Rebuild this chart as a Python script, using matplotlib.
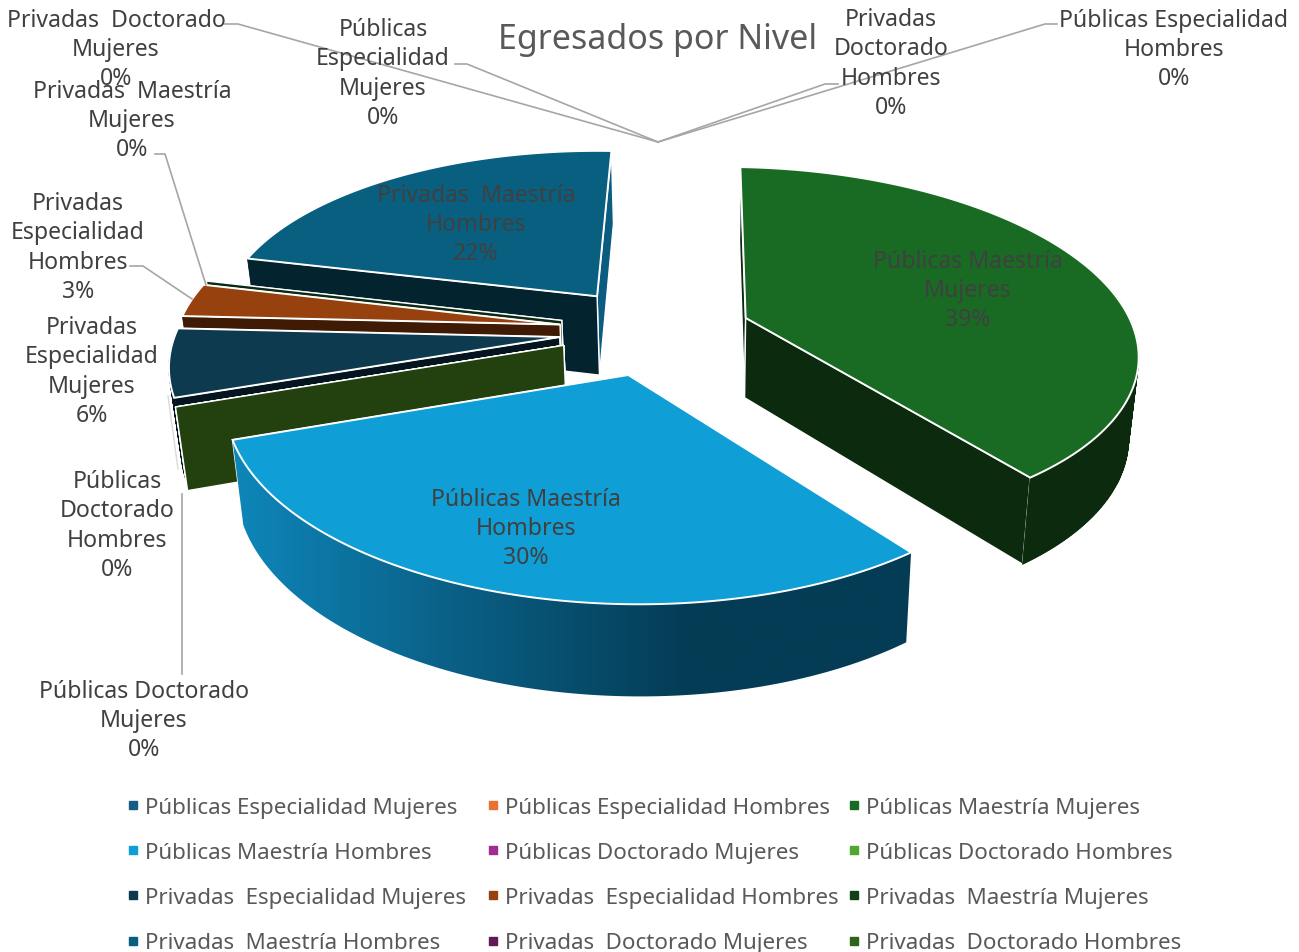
import numpy as np
import matplotlib
matplotlib.use("Agg")
import matplotlib.pyplot as plt
from matplotlib.patches import Polygon
from matplotlib.lines import Line2D
from matplotlib.colors import LinearSegmentedColormap

plt.rcParams['font.family'] = ['Noto Sans', 'DejaVu Sans']

series_names = ["Públicas Especialidad Mujeres", "Públicas Especialidad Hombres", "Públicas Maestría Mujeres",
                "Públicas Maestría Hombres", "Públicas Doctorado Mujeres", "Públicas Doctorado Hombres",
                "Privadas  Especialidad Mujeres", "Privadas  Especialidad Hombres", "Privadas  Maestría Mujeres",
                "Privadas  Maestría Hombres", "Privadas  Doctorado Mujeres", "Privadas  Doctorado Hombres"]
values = [0, 0, 39, 30, 0, 0, 6, 3, 0, 22, 0, 0]
top_colors = ["#156082", "#E97132", "#196B24", "#0F9ED5", "#A02B93", "#4EA72E",
              "#0D3A4E", "#97410F", "#0F4016", "#095F80", "#601A58", "#2F641C"]
wall_colors = ["#0A3040", "#6A3010", "#0B2A0E", "#0A5F85", "#501548", "#22410F",
               "#04151F", "#3F1A05", "#0A2A12", "#03232F", "#300D2C", "#183010"]

# the tilted, perspective view of the pie plane, and the exploded layout
explode = 0.25
rotation = -4.5
H = np.array([[368.140, 139.280, 655.183],
              [14.649116, -125.489613, 331.817909],
              [-0.024001, 0.154289, 1.0]])


def project(x, y):
    w = H[2, 0]*x + H[2, 1]*y + 1
    return (H[0, 0]*x + H[0, 1]*y + H[0, 2])/w, (H[1, 0]*x + H[1, 1]*y + H[1, 2])/w


def drop(u, v):
    return u - 0.023*(u - 700), v + 79 + 0.043*(v - 300)


fig = plt.figure(figsize=(12.99, 9.53), dpi=100, facecolor='white')
ax = fig.add_axes([0, 0, 1, 1])
ax.set_xlim(0, 1299)
ax.set_ylim(953, 0)
ax.axis('off')

ends = np.cumsum(values)*3.6
starts = ends - np.array(values)*3.6
slices = []
for i, v in enumerate(values):
    if v == 0 and (ends[i] % 360 == 0):
        continue
    mid = np.radians((starts[i] + ends[i])/2 + rotation)
    ax0, ay0 = explode*np.sin(mid), explode*np.cos(mid)
    deg = np.linspace(starts[i], ends[i], max(2, int(v*6)+2))
    ang = np.radians(deg + rotation)
    rx, ry = ax0 + np.sin(ang), ay0 + np.cos(ang)
    apex = project(ax0, ay0)
    ru, rv = project(rx, ry)
    slices.append((apex[1], i, apex, ru, rv, np.cos(ang) < 0.3))

blue_side = LinearSegmentedColormap.from_list("side", ["#043C55", "#043C55", "#0A5F85", "#0E88BC"])
for _, i, apex, ru, rv, front in sorted(slices, key=lambda s: s[0]):
    du, dv = drop(ru, rv)
    ap2 = drop(*apex)
    for k in sorted((0, -1), key=lambda q: rv[q]):
        col = "#0B5C80" if (i == 9 and k == -1) else wall_colors[i]
        ax.add_patch(Polygon([apex, (ru[k], rv[k]), (du[k], dv[k]), ap2], fc=col, ec='white', lw=1.0))
    if values[i] > 0:
        if front.any():
            poly = np.vstack([np.column_stack([ru[front], rv[front]]),
                              np.column_stack([du[front], dv[front]])[::-1]])
            if i == 3:
                pat = Polygon(poly, fc='none', ec='none')
                ax.add_patch(pat)
                grad = np.linspace(1, 0, 256).reshape(1, -1)
                im = ax.imshow(grad, cmap=blue_side, aspect='auto', zorder=1,
                               extent=(ru.min()-10, ru.max()+10, dv.max()+10, rv.min()-10))
                im.set_clip_path(pat)
                ax.set_xlim(0, 1299)
                ax.set_ylim(953, 0)
            else:
                ax.add_patch(Polygon(poly, fc=wall_colors[i], ec='none'))
                fi = np.flatnonzero(front)
                for a, b in zip(fi[:-1], fi[1:]):
                    ax.add_patch(Polygon([(ru[a], rv[a]), (ru[b], rv[b]), (du[b], dv[b]), (du[a], dv[a])],
                                         fc=wall_colors[i], ec=wall_colors[i], lw=0.6))
        ax.add_patch(Polygon(np.column_stack([np.r_[apex[0], ru], np.r_[apex[1], rv]]),
                             fc=top_colors[i], ec='white', lw=1.4))

lead = "#A6A6A6"
leaders = [[(225, 25), (238, 25), (658, 143)], [(455, 65), (467, 65), (658, 143)],
           [(838, 85), (825, 85), (658, 143)], [(1057, 25), (1045, 25), (658, 143)],
           [(155, 155), (165, 155), (206, 286)], [(130, 267), (143, 267), (192, 300)],
           [(182, 675), (182, 495)]]
for L in leaders:
    p = np.array(L)
    ax.plot(p[:, 0], p[:, 1], color=lead, lw=1.2, zorder=5)
ax.plot([168, 178], [397, 470], color="#D9D9D9", lw=1.0, zorder=5)

fs = 16.6
labels = [("Privadas  Doctorado\nMujeres\n0%", 116, 50), ("Públicas\nEspecialidad\nMujeres\n0%", 383, 74),
          ("Privadas\nDoctorado\nHombres\n0%", 891, 64), ("Públicas Especialidad\nHombres\n0%", 1174, 50),
          ("Privadas  Maestría\nMujeres\n0%", 132, 121), ("Privadas\nEspecialidad\nHombres\n3%", 78, 248),
          ("Privadas\nEspecialidad\nMujeres\n6%", 92, 372), ("Públicas\nDoctorado\nHombres\n0%", 117, 526),
          ("Públicas Doctorado\nMujeres\n0%", 144, 721), ("Privadas  Maestría\nHombres\n22%", 476, 225),
          ("Públicas Maestría\nMujeres\n39%", 968, 291), ("Públicas Maestría\nHombres\n30%", 526, 529)]
for s, x, y in labels:
    ax.text(x, y, s, ha='center', va='center', multialignment='center', fontsize=fs, color="#404040",
            linespacing=1.29, zorder=6)

ax.text(658, 40, "Egresados por Nivel", ha='center', va='center', fontsize=24.5, color="#595959", zorder=6)

for col, x0 in enumerate((124, 484, 845)):
    idx = range(col, 12, 3)
    hs = [Line2D([], [], ls='', marker='s', ms=6, mfc=top_colors[i], mec=top_colors[i], label=series_names[i])
          for i in idx]
    leg = ax.legend(handles=hs, loc='upper left', bbox_to_anchor=(x0, 798), bbox_transform=ax.transData,
                    frameon=False, fontsize=16.1, labelcolor="#595959", labelspacing=1.08, handlelength=0.8,
                    handletextpad=0.13, borderpad=0, borderaxespad=0)
    ax.add_artist(leg)
    ax.legend_ = None

fig.savefig("out.png", dpi=100)
